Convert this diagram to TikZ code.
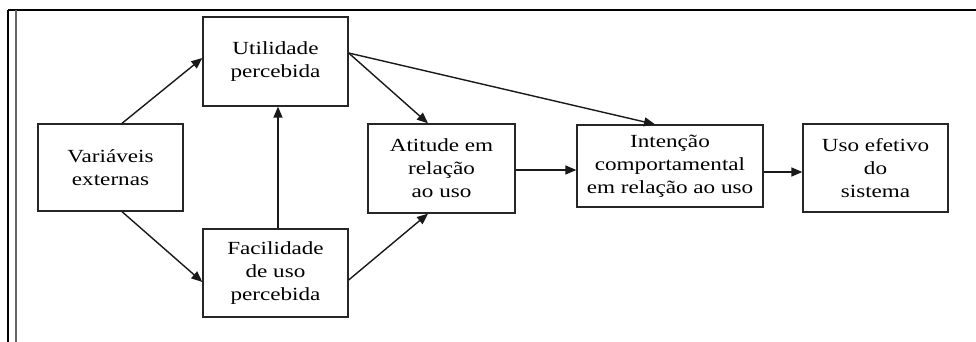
\documentclass[tikz,border=0pt]{standalone}
\usepackage{fontspec}
\setmainfont{Liberation Serif}[FakeStretch=1.25]
\usetikzlibrary{arrows.meta}
\begin{document}
\begin{tikzpicture}[x=1pt,y=-1pt,
  box/.style={draw=black!85,line width=1.3pt,rectangle,inner sep=0pt,align=center,
    font=\fontsize{18.5}{23}\selectfont,text=black},
  arr/.style={line width=1.4pt,draw=black!90,-{Triangle[length=11pt,width=9pt]}},
  frame/.style={line width=1.5pt}]
\useasboundingbox (0,0) rectangle (976,342);
\fill[white] (0,0) rectangle (976,342);
% frame
\draw[frame] (8,10) -- (976,10);
\draw[frame] (8,10) -- (8,342);
\draw[frame,black!60] (16,10) -- (16,342);
% boxes
\node[box,minimum width=145pt,minimum height=87pt] (var) at (110.5,167.5) {Variáveis\\externas};
\node[box,minimum width=145pt,minimum height=89pt] (util) at (275.5,61.5) {Utilidade\\percebida};
\node[box,minimum width=145pt,minimum height=88pt] (fac) at (275.5,273) {Facilidade\\de uso\\percebida};
\node[box,minimum width=147pt,minimum height=89pt] (att) at (441.5,168.5) {Atitude em\\relação\\ao uso};
\node[box,minimum width=186pt,minimum height=82pt] (int) at (670,166) {Intenção\\comportamental\\em relação ao uso};
\node[box,minimum width=145pt,minimum height=88pt] (uso) at (875.5,168) {Uso efetivo\\do\\sistema};
% connectors
\draw[arr] ([xshift=11.5pt]var.north) -- ([yshift=3.5pt]util.west);
\draw[arr] ([xshift=11.5pt]var.south) -- ([yshift=-9pt]fac.west);
\draw[arr] ([xshift=2.5pt]fac.north) -- ([xshift=2.5pt]util.south);
\draw[arr] ([yshift=8.5pt]util.east) -- ([xshift=-13.5pt]att.north);
\draw[arr] ([yshift=8.5pt]util.east) -- ([xshift=-15pt]int.north);
\draw[arr] ([yshift=-7pt]fac.east) -- ([xshift=-13.5pt]att.south);
\draw[arr] ([yshift=-1.5pt]att.east) -- ([yshift=-4pt]int.west);
\draw[arr] ([yshift=-6pt]int.east) -- ([yshift=-4pt]uso.west);
\end{tikzpicture}
\end{document}
